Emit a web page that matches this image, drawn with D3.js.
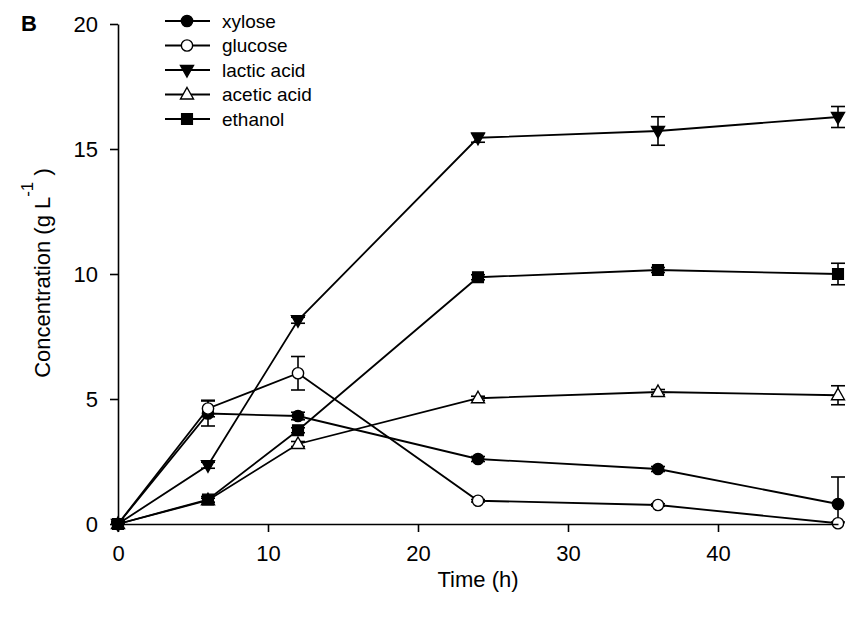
<!DOCTYPE html>
<html>
<head>
<meta charset="utf-8">
<script src="https://cdn.jsdelivr.net/npm/d3@7"></script>
<style>
  html, body { margin: 0; padding: 0; background: #fff; }
  svg { display: block; font-family: "Liberation Sans", Arial, sans-serif; }
</style>
</head>
<body>
<svg id="chart" width="846" height="623"></svg>
<script>
// Sampling times (h)
const times = [0, 6, 12, 24, 36, 48];

// Concentrations (g/L) and standard deviations per product
const xylose     = [0, 4.42, 4.32, 2.6, 2.2, 0.8];
const xyloseErr  = [0.1, 0.5, 0.15, 0.1, 0.1, 1.08];
const glucose    = [0, 4.62, 6.03, 0.93, 0.76, 0.03];
const glucoseErr = [0.1, 0.33, 0.67, 0.05, 0.05, 0.05];
const lactic     = [0, 2.35, 8.15, 15.45, 15.72, 16.28];
const lacticErr  = [0.05, 0.12, 0.12, 0.18, 0.57, 0.42];
const acetic     = [0, 0.95, 3.2, 5.03, 5.28, 5.15];
const aceticErr  = [0.05, 0.08, 0.1, 0.08, 0.1, 0.38];
const ethanol    = [0, 0.98, 3.75, 9.87, 10.16, 10.0];
const ethanolErr = [0.05, 0.12, 0.1, 0.1, 0.1, 0.43];

const seriesNames = ["xylose", "glucose", "lactic acid", "acetic acid", "ethanol"];
const xTicks = [0, 10, 20, 30, 40];
const yTicks = [0, 5, 10, 15, 20];

const series = [
  { name: seriesNames[0], values: xylose,  err: xyloseErr,  shape: "circle",   fill: "#000" },
  { name: seriesNames[1], values: glucose, err: glucoseErr, shape: "circle",   fill: "#fff" },
  { name: seriesNames[2], values: lactic,  err: lacticErr,  shape: "triDown",  fill: "#000" },
  { name: seriesNames[3], values: acetic,  err: aceticErr,  shape: "triUp",    fill: "#fff" },
  { name: seriesNames[4], values: ethanol, err: ethanolErr, shape: "square",   fill: "#000" }
];

const svg = d3.select("#chart");
const x = d3.scaleLinear().domain([0, 48]).range([118, 838]);
const y = d3.scaleLinear().domain([0, 20]).range([524, 24]);

// Marker path generator
function markerPath(shape) {
  switch (shape) {
    case "circle":  return d3.symbol(d3.symbolCircle, 100)();
    case "square":  return d3.symbol(d3.symbolSquare, 115)();
    case "triUp":   return "M0,-7L6.5,4.5L-6.5,4.5Z";
    case "triDown": return "M0,7L6.5,-4.5L-6.5,-4.5Z";
  }
}

// Error bars are clipped at the zero line
svg.append("clipPath").attr("id", "plotClip")
  .append("rect").attr("x", 0).attr("y", 0).attr("width", 846).attr("height", y(0));

const line = d3.line().x((d, i) => x(times[i])).y(d => y(d));

// Lines
const gLines = svg.append("g");
series.forEach(s => {
  gLines.append("path")
    .attr("d", line(s.values))
    .attr("fill", "none")
    .attr("stroke", "#000")
    .attr("stroke-width", 1.8);
});

// Error bars
const gErr = svg.append("g").attr("clip-path", "url(#plotClip)")
  .attr("stroke", "#000").attr("stroke-width", 1.6).attr("fill", "none");
const cap = 7;
series.forEach(s => {
  s.values.forEach((v, i) => {
    const e = s.err[i];
    const cx = x(times[i]);
    const y1 = y(v + e), y2 = y(v - e);
    gErr.append("line").attr("x1", cx).attr("x2", cx).attr("y1", y1).attr("y2", y2);
    gErr.append("line").attr("x1", cx - cap).attr("x2", cx + cap).attr("y1", y1).attr("y2", y1);
    gErr.append("line").attr("x1", cx - cap).attr("x2", cx + cap).attr("y1", y2).attr("y2", y2);
  });
});

// Markers
const gMarks = svg.append("g");
series.forEach(s => {
  s.values.forEach((v, i) => {
    gMarks.append("path")
      .attr("d", markerPath(s.shape))
      .attr("transform", `translate(${x(times[i])},${y(v)})`)
      .attr("fill", s.fill)
      .attr("stroke", "#000")
      .attr("stroke-width", 1.4);
  });
});

// Axes
const xAxis = svg.append("g").attr("transform", `translate(0,${y(0)})`)
  .call(d3.axisBottom(x).tickValues(xTicks).tickSize(8).tickPadding(13).tickSizeOuter(0));
const yAxis = svg.append("g").attr("transform", `translate(${x(0)},0)`)
  .call(d3.axisLeft(y).tickValues(yTicks).tickSize(8).tickPadding(12).tickSizeOuter(0));
[xAxis, yAxis].forEach(a => {
  a.select(".domain").attr("stroke", "#000").attr("stroke-width", 1.6);
  a.selectAll(".tick line").attr("stroke", "#000").attr("stroke-width", 1.6);
  a.selectAll(".tick text").attr("fill", "#000").style("font-size", "22px")
    .style("font-family", "'Liberation Sans', Arial, sans-serif");
});

// Axis titles
svg.append("text")
  .attr("x", x(24)).attr("y", 587)
  .attr("text-anchor", "middle")
  .style("font-size", "22px")
  .text("Time (h)");

const yTitle = svg.append("text")
  .attr("transform", "translate(50,273) rotate(-90)")
  .attr("text-anchor", "middle")
  .style("font-size", "22px");
yTitle.append("tspan").text("Concentration (g L");
yTitle.append("tspan").attr("dy", -17).style("font-size", "17px").text("-1");
yTitle.append("tspan").attr("dy", 17).text(" )");

// Panel letter
svg.append("text")
  .attr("x", 21).attr("y", 31)
  .style("font-size", "22px").style("font-weight", "bold")
  .text("B");

// Legend
const legend = svg.append("g");
series.forEach((s, i) => {
  const ly = 21 + i * 24.5;
  legend.append("line")
    .attr("x1", 165).attr("x2", 210).attr("y1", ly).attr("y2", ly)
    .attr("stroke", "#000").attr("stroke-width", 1.8);
  legend.append("path")
    .attr("d", markerPath(s.shape))
    .attr("transform", `translate(187,${ly})`)
    .attr("fill", s.fill).attr("stroke", "#000").attr("stroke-width", 1.4);
  legend.append("text")
    .attr("x", 222).attr("y", ly + 6.5)
    .style("font-size", "19px")
    .text(s.name);
});
</script>
</body>
</html>
